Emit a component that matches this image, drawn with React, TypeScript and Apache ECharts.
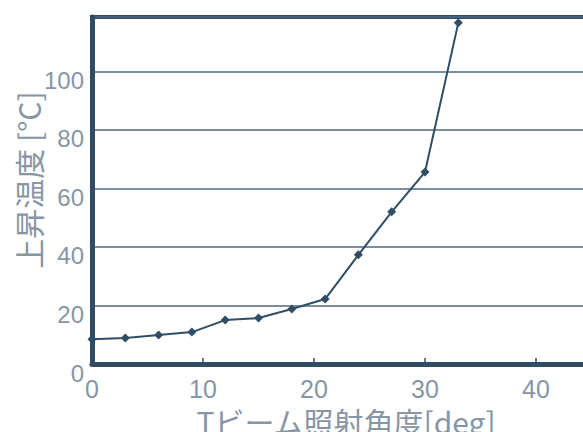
import React, { useEffect, useRef } from "react";
import * as echarts from "echarts";

const angles = [0, 3, 6, 9, 12, 15, 18, 21, 24, 27, 30, 33];
const temps = [8.5, 8.9, 9.9, 10.9, 15.0, 15.7, 18.8, 22.2, 37.3, 52.0, 65.6, 116.6];
const yAxisTitle = "上昇温度 [°C]";
const xAxisTitle = "Tビーム照射角度[deg]";

const DARK = "#2f4e66";
const LABEL = "#8796a4";

export default function App() {
  const ref = useRef<HTMLDivElement>(null);
  useEffect(() => {
    if (!ref.current) return;
    const chart = echarts.init(ref.current, null, { renderer: "svg" });
    chart.setOption({
      animation: false,
      backgroundColor: "#ffffff",
      grid: {
        left: 92,
        top: 17,
        width: 555,
        bottom: 68,
        show: true,
        borderColor: DARK,
        borderWidth: 4,
        backgroundColor: "transparent",
      },
      xAxis: {
        type: "value",
        min: 0,
        max: 50,
        interval: 10,
        axisLine: { show: true, lineStyle: { color: DARK, width: 5 } },
        axisTick: { show: true, inside: true, length: 6, lineStyle: { color: DARK, width: 1.5 } },
        splitLine: { show: false },
        axisLabel: {
          color: LABEL,
          fontSize: 25,
          lineHeight: 18,
          fontFamily: "Liberation Sans",
          margin: 16,
          showMaxLabel: false,
        },
      },
      yAxis: {
        type: "value",
        min: 0,
        max: 118.6,
        interval: 20,
        axisLine: { show: true, lineStyle: { color: DARK, width: 5 } },
        axisTick: { show: false },
        splitLine: { show: true, lineStyle: { color: "#4f6a80", width: 1.5 } },
        axisLabel: {
          color: LABEL,
          fontSize: 24,
          lineHeight: 18,
          verticalAlign: "top",
          fontFamily: "Liberation Sans",
          margin: 8,
          showMaxLabel: false,
        },
      },
      graphic: [
        {
          type: "text",
          x: 28,
          y: 180,
          rotation: Math.PI / 2,
          style: {
            text: yAxisTitle,
            fontSize: 30,
            fontFamily: "Noto Sans CJK JP",
            fill: LABEL,
            align: "center",
            verticalAlign: "middle",
          },
        },
        {
          type: "text",
          x: 346,
          y: 406,
          style: {
            text: xAxisTitle,
            fontSize: 30,
            lineHeight: 30,
            fontFamily: "Noto Sans CJK JP",
            fill: LABEL,
            align: "center",
            verticalAlign: "top",
          },
        },
      ],
      series: [
        {
          type: "line",
          data: angles.map((a, i) => [a, temps[i]]),
          symbol: "diamond",
          symbolSize: 9,
          lineStyle: { color: DARK, width: 2 },
          itemStyle: { color: DARK },
          clip: false,
        },
      ],
    });
    return () => chart.dispose();
  }, []);
  return (
    <div
      style={{
        position: "fixed",
        left: 0,
        top: 0,
        width: 583,
        height: 432,
        overflow: "hidden",
      }}
    >
      <div ref={ref} style={{ width: 660, height: 432 }} />
    </div>
  );
}
